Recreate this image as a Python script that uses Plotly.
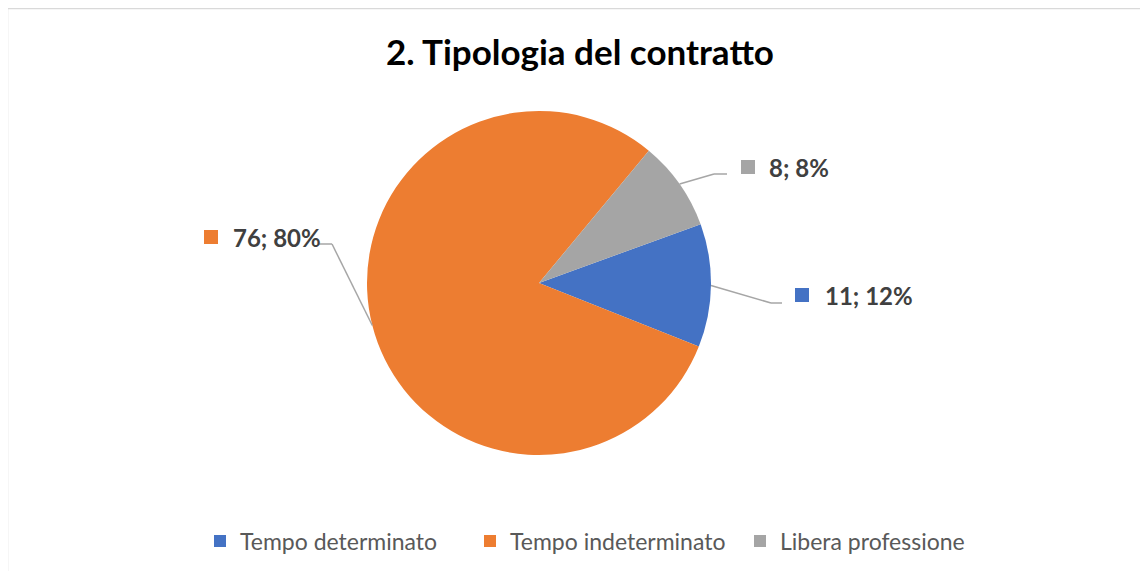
import math
import plotly.graph_objects as go

# data
labels = ["Tempo determinato", "Tempo indeterminato", "Libera professione"]
values = [11, 76, 8]
colors = ["#4472C4", "#ED7D31", "#A5A5A5"]
title_text = "2. Tipologia del contratto"

# page is W x H, but the browser body keeps an 8px margin, so the figure is a bit smaller
W, H = 1148, 571
OFF = 8
FW, FH = W - OFF, H - OFF
FONT = "Lato"

# pie placement in page pixels (center and radius)
cx, cy, r = 539, 283, 172
rotation = 70

# label placement per slice (page pixels): elbow of leader line, end of line, square left, text left, text mid y
label_pos = [
    dict(elbow=(771, 303), end=(782, 303), sq=795, tx=823, ty=295),
    dict(elbow=(332, 244), end=(319, 244), sq=204, tx=231, ty=237),
    dict(elbow=(714, 174), end=(727, 174), sq=741, tx=767, ty=167),
]


def px(x, y):
    return (x - OFF) / FW, 1 - (y - OFF) / FH


total = sum(values)
pcts = [round(v / total * 100) for v in values]

dx0, dy0 = px(cx - r, cy + r)
dx1, dy1 = px(cx + r, cy - r)

fig = go.Figure()
fig.add_trace(go.Pie(
    labels=labels, values=values, sort=False, direction="clockwise",
    rotation=rotation, textinfo="none", hoverinfo="label+value+percent",
    marker=dict(colors=colors, line=dict(width=0)),
    domain=dict(x=[dx0, dx1], y=[dy0, dy1]),
))

shapes = []
annotations = []
# outer border
bx0, by0 = px(7.5, 8.5)
bx1, by1 = px(W + 20, H + 20)
shapes.append(dict(type="rect", xref="paper", yref="paper", x0=bx0, x1=bx1, y0=by1, y1=by0,
                   line=dict(color="#D9D9D9", width=1.5), fillcolor="rgba(0,0,0,0)", layer="below"))

start = rotation
for i, v in enumerate(values):
    span = v / total * 360
    mid = math.radians(start + span / 2)
    start += span
    ax_, ay_ = cx + r * math.sin(mid), cy - r * math.cos(mid)
    lp = label_pos[i]
    pts = [(ax_, ay_), lp["elbow"], lp["end"]]
    for (x0, y0), (x1, y1) in zip(pts[:-1], pts[1:]):
        a, b = px(x0, y0)
        c, d = px(x1, y1)
        shapes.append(dict(type="line", xref="paper", yref="paper", x0=a, y0=b, x1=c, y1=d,
                           line=dict(color="#A6A6A6", width=1.5)))
    a, b = px(lp["sq"], lp["ty"] - 7)
    c, d = px(lp["sq"] + 14, lp["ty"] + 7)
    shapes.append(dict(type="rect", xref="paper", yref="paper", x0=a, y0=b, x1=c, y1=d,
                       line=dict(width=0), fillcolor=colors[i]))
    tx, ty = px(lp["tx"], lp["ty"])
    annotations.append(dict(x=tx, y=ty, xref="paper", yref="paper", xanchor="left", yanchor="middle",
                            showarrow=False, text=f"<b>{v}; {pcts[i]}%</b>",
                            font=dict(family=FONT, size=24, color="#404040")))

tx_, ty_ = px(580, 53)
lx_, ly_ = px(200, 541)
fig.update_layout(
    width=FW, height=FH,
    margin=dict(l=0, r=0, t=0, b=0),
    paper_bgcolor="white", plot_bgcolor="white",
    title=dict(text=f"<b>{title_text}</b>", x=tx_, xanchor="center", y=ty_, yanchor="middle",
               font=dict(family=FONT, size=35, color="#000000")),
    legend=dict(orientation="h", x=lx_, xanchor="left", y=ly_, yanchor="middle",
                font=dict(family=FONT, size=23, color="#595959"), itemwidth=30,
                entrywidth=225, entrywidthmode="pixels", traceorder="normal"),
    shapes=shapes, annotations=annotations,
)

fig.write_html("out.html")
